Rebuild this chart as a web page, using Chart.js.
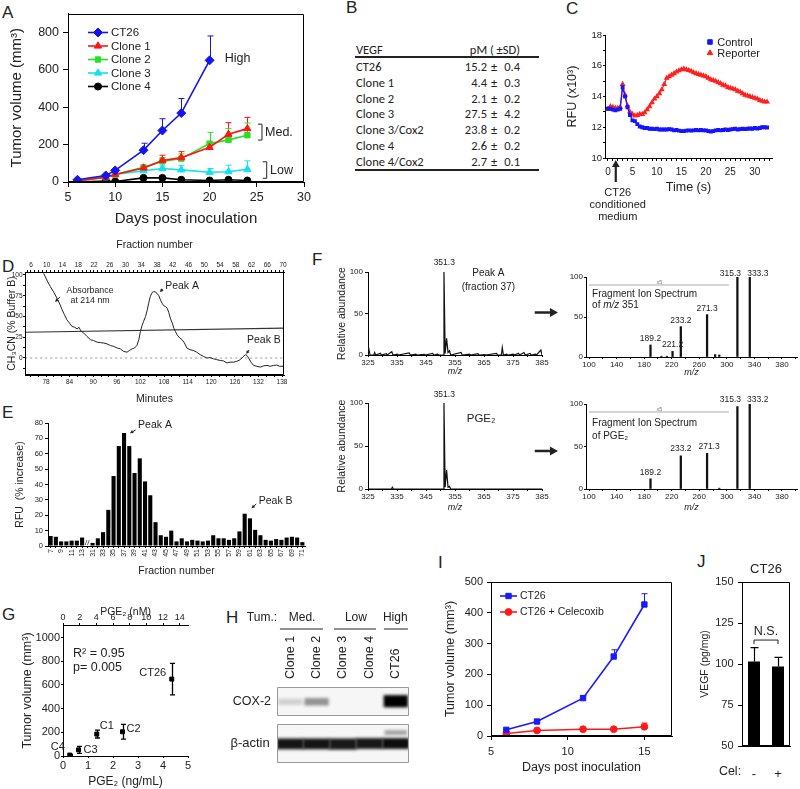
<!DOCTYPE html>
<html><head><meta charset="utf-8">
<script src="https://cdn.jsdelivr.net/npm/chart.js@4.4.1/dist/chart.umd.min.js"></script>
<style>
html,body{margin:0;padding:0;background:#fff;overflow:hidden}
#fig{position:relative;width:800px;height:789px;font-family:'Liberation Sans',Arial,sans-serif;color:#222}
.lbl{position:absolute;font-size:17px;line-height:18px}
.tb{position:absolute;font-family:Carlito,Lato,'Liberation Sans',sans-serif;font-size:12.5px;line-height:14px;white-space:nowrap;color:#222}
.hr{position:absolute;background:#222}
</style></head><body><div id="fig"></div>
<script>
// ================= DATA =================
// A: tumor growth
const aDays = [6, 9, 10, 13, 15, 17, 20, 22, 24];
const aCT26 = [12, 35, 62, 170, 275, 368, 650, null, null];
const aCT26Err = [3, 6, 6, 37, 63, 78, 130, null, null];
const aClone1 = [5, 25, 40, 75, 115, 130, 185, 255, 285];
const aClone1Err = [2, 3, 4, 6, 28, 32, 18, 62, 60];
const aClone2 = [5, 25, 40, 78, 110, 125, 205, 225, 250];
const aClone2Err = [2, 3, 4, 6, 20, 25, 60, 60, 65];
const aClone3 = [10, 30, 40, 60, 72, 65, 52, 55, 68];
const aClone3Err = [2, 3, 4, 14, 14, 22, 20, 35, 45];
const aClone4 = [0, 5, 3, 22, 22, 12, 8, 12, 8];
const aClone4Err = [1, 2, 2, 4, 5, 4, 3, 3, 3];
// B: VEGF table
const bNames = ['CT26', 'Clone 1', 'Clone 2', 'Clone 3', 'Clone 3/Cox2', 'Clone 4', 'Clone 4/Cox2'];
const bVEGF = ['15.2', '4.4', '2.1', '27.5', '23.8', '2.6', '2.7'];
const bSD = ['0.4', '0.3', '0.2', '4.2', '0.2', '0.2', '0.1'];
// C: reporter kinetics
const cTime = [0,0.5,1,1.5,2,2.5,3,3.5,4,4.5, 5,5.5,6,6.5,7,7.5,8,8.5,9,9.5,
  10,10.5,11,11.5,12,12.5,13,13.5,14,14.5, 15,15.5,16,16.5,17,17.5,18,18.5,19,19.5,
  20,20.5,21,21.5,22,22.5,23,23.5,24,24.5, 25,25.5,26,26.5,27,27.5,28,28.5,29,29.5,
  30,30.5,31,31.5,32,32.5];
const cControl = [13.2,13.2,13.15,13.1,13.15,13.2,14.6,14.0,13.3,12.8,
  12.45,12.4,12.2,12.05,12.0,11.95,11.95,11.9,11.9,11.88,
  11.9,11.85,11.85,11.85,11.85,11.88,11.85,11.8,11.82,11.78,
  11.75,11.75,11.78,11.8,11.78,11.8,11.82,11.8,11.82,11.8,
  11.8,11.75,11.72,11.75,11.8,11.82,11.8,11.82,11.85,11.82,
  11.85,11.88,11.9,11.85,11.88,11.9,11.88,11.9,11.92,11.9,
  11.95,11.92,11.95,12.0,12.0,11.98];
const cReporter = [13.2,13.35,13.3,13.25,13.25,13.3,14.8,14.1,13.4,13.0,
  12.85,12.75,12.78,12.85,12.85,12.95,13.15,13.35,13.6,13.85,
  14.0,14.2,14.45,14.8,15.2,15.3,15.4,15.5,15.6,15.68,
  15.75,15.8,15.75,15.7,15.65,15.55,15.5,15.45,15.4,15.35,
  15.3,15.2,15.1,15.05,15.0,14.92,14.85,14.75,14.7,14.6,
  14.55,14.5,14.45,14.35,14.3,14.2,14.1,14.05,14.0,13.95,
  13.9,13.85,13.75,13.7,13.65,13.65];
// D: HPLC trace [minutes, value]
const dTrace = [[77.4,102],[78.2,94],[79.1,86],[80.0,79],[80.8,72],[81.5,65],[82.1,58],[82.7,52],[83.3,46],[84.0,42],
  [84.6,38],[85.3,37],[85.9,35],[86.4,37],[86.8,33],[87.6,30],[88.4,26],[89.3,22],[90.1,21],[91.0,19],
  [91.8,18.5],[92.7,18],[93.5,17],[94.4,15],[95.2,14],[96.1,12],[96.9,11],[97.7,8],[98.6,7],[99.2,9],
  [99.9,11],[100.5,12],[101.1,15],[101.6,22],[102.0,32],[102.4,39],[102.8,44],[103.3,50],[103.7,57],[104.1,66],
  [104.5,74],[105.0,79],[105.4,80],[105.8,79.5],[106.2,78],[106.7,75],[107.1,70],[107.5,66],[107.9,63],[108.4,62],
  [108.8,60],[109.2,55],[109.6,48],[110.1,42],[110.5,36],[110.9,32],[111.3,28],[112.0,24],[112.6,22],[113.2,18],
  [113.8,12],[114.6,10],[115.5,9],[116.3,7],[117.2,4],[118.0,2],[118.9,0],[119.7,0.5],[120.6,-1],[121.4,-2],
  [122.3,-3],[123.1,-3.5],[124.0,-6],[124.8,-5],[125.7,-5],[126.5,-4],[127.4,-2],[128.0,1],[128.7,4],[129.1,3],
  [129.5,0],[130.1,-5],[130.8,-9],[131.6,-10],[132.5,-11],[133.3,-9.5],[134.2,-9],[135.0,-10],[135.8,-9],[136.6,-8.5],
  [137.4,-10],[138.3,-10]];
const dGradient = [[72.7,31],[138.5,36]];
const dZero = [[72.7,0],[138.5,0]];
// E: fraction activity
const eFractions = ['7','8','9','10','11','12','13','','31','32','33','34','35','36','37','38','39','40',
  '41','42','43','44','45','46','47','48','49','50','51','52','53','54','55','56','57','58','59','60',
  '61','62','63','64','65','66','67','68','69','70','71'];
const eRFU = [6.5,6,3,3,3.5,3.5,5.5,null,2,5,9,23.5,45.5,65,73.5,65,47.5,57,
  42,33,15.5,7,6,10,3,5,3,4,3.5,3,3.5,7,5,5,4,5,9.5,21,
  18,10.5,7,4,3.5,4.5,4,5.5,6,5.5,2.5];
// F: mass spectra
const f1Mz = [324.8,325.2,325.7,327,327.3,327.6,329.3,329.6,331.3,331.6,333.2,333.6,335.1,335.4,339.2,339.6,341.5,341.8,
  344.4,344.7,347.3,347.7,349,349.4,350.9,351.2,351.6,352.1,352.6,353.1,353.5,357.1,357.5,360,360.4,362.9,363.3,
  365.3,365.7,369.3,369.7,371.0,371.3,371.7,372.8,373.2,375.1,375.5,376.9,377.3,378.8,379.2,380.9,381.3,382.7,383.1,384.6,385];
const f1Int = [0,9,0,0,3,0,2,0,1.5,0,4,0,1,0,2.5,0,1,0,
  0.8,0,2,0,1,0,0,100,2,20,3,5,0,3,0,1,0,1.5,0,
  0.5,0,2,0,0,9,0,1,0,1,0,2,0,3,0,2,0,1,0,6,0];
const f2Mz = [325,333.1,333.4,333.8,350.9,351.2,351.6,352.1,352.6,353.1,353.5,385];
const f2Int = [0,0,2,0,0,100,2,22,2,3,0,0];
const f3Mz = [189.2,205,213,221.2,233.2,271.3,283,289,315.3,333.3];
const f3Int = [15,1,1,7,38,53,3,2.5,100,100];
const f4Mz = [189.2,233.2,271.3,289,315.3,333.2];
const f4Int = [12,39,42,1,97,100];
// G: PGE2 vs tumor volume
const gNames = ['C4','C3','C1','C2','CT26'];
const gPGE = [0.27,0.62,1.35,2.38,4.35];
const gVolume = [8,52,185,205,650];
const gErr = [6,30,33,62,133];
// H: western blot lanes
const hLanes = ['Clone 1','Clone 2','Clone 3','Clone 4','CT26'];
const hCoxBand = [[0.38,0.6],[0.36,0.62],null,null,[0.3,0.72]];
const hCoxLevel = [0.15,0.4,0,0,1];
const hActinBand = [[0.36,0.62],[0.36,0.62],[0.35,0.62],[0.37,0.63],[0.37,0.63]];
const hActinLevel = [0.92,0.92,0.9,0.9,0.95];
const hUpperBand = [null,null,null,null,[0.72,0.84]];
const hUpperLevel = [0,0,0,0,0.35];
// I: celecoxib
const iDays = [6,8,11,13,15];
const iCT26 = [20,47,123,258,427];
const iCT26Err = [4,5,8,22,35];
const iCel = [8,18,22,22,30];
const iCelErr = [2,2,2,2,12];
// J: VEGF
const jCel = ['-','+'];
const jVEGF = [101.5,98.5];
const jErr = [8.5,5.5];

// ================= SETUP =================
const FONT = "'Liberation Sans', Arial, sans-serif";
Chart.defaults.font.family = FONT;
Chart.defaults.color = '#222';
Chart.defaults.plugins.legend.display = false;
Chart.defaults.plugins.tooltip.enabled = false;
Chart.defaults.events = [];
Chart.defaults.animation = false;
const fig = document.getElementById('fig');
const pairs = (xs, ys) => xs.map((x, i) => ({x, y: ys[i]}));

function drawMark(ctx, style, r, x, y) {
  if (Chart.helpers && Chart.helpers.drawPoint) {
    Chart.helpers.drawPoint(ctx, {pointStyle: style, radius: r, rotation: 0, borderWidth: 1}, x, y);
  } else { ctx.beginPath(); ctx.arc(x, y, r, 0, 7); ctx.fill(); }
}

const xPlug = {
  id: 'xplug',
  beforeDatasetsDraw(chart) {
    const X = chart.canvas.$x || {}, ctx = chart.ctx, a = chart.chartArea;
    if (X.frame && X.frame.bg) { ctx.save(); ctx.fillStyle = X.frame.bg; ctx.fillRect(a.left, a.top, a.right - a.left, a.bottom - a.top); ctx.restore(); }
    chart.data.datasets.forEach((ds, di) => {
      if (!ds.errUp && !ds.errDn) return;
      const meta = chart.getDatasetMeta(di), ys = chart.scales[meta.yAxisID];
      ctx.save(); ctx.strokeStyle = ds.errColor || ds.borderColor; ctx.lineWidth = ds.errW || 1;
      const cap = ds.errCap == null ? 6 : ds.errCap;
      meta.data.forEach((el, i) => {
        const p = meta.controller.getParsed(i); if (!p || p.y == null) return;
        const up = ds.errUp ? ds.errUp[i] : 0, dn = ds.errDn ? ds.errDn[i] : 0;
        if (!up && !dn) return;
        const x = Math.round(el.x) + 0.5;
        const y1 = ys.getPixelForValue(p.y + (up || 0)), y0 = ys.getPixelForValue(p.y - (dn || 0));
        ctx.beginPath(); ctx.moveTo(x, y0); ctx.lineTo(x, y1);
        if (up) { ctx.moveTo(x - cap / 2, y1); ctx.lineTo(x + cap / 2, y1); }
        if (dn) { ctx.moveTo(x - cap / 2, y0); ctx.lineTo(x + cap / 2, y0); }
        ctx.stroke();
      });
      ctx.restore();
    });
    if (X.blur) { ctx.save(); ctx.filter = 'blur(' + X.blur + 'px)'; chart.$blurred = true; }
  },
  afterDatasetsDraw(chart) {
    if (chart.$blurred) { chart.ctx.restore(); chart.$blurred = false; }
  },
  afterDraw(chart) {
    const X = chart.canvas.$x || {}, ctx = chart.ctx, a = chart.chartArea;
    if (X.frame) {
      const s = X.frame.sides || 'trbl';
      const L = Math.round(a.left) + 0.5, R = Math.round(a.right) - 0.5, T = Math.round(a.top) + 0.5, B = Math.round(a.bottom) - 0.5;
      ctx.save(); ctx.strokeStyle = X.frame.color || '#000'; ctx.lineWidth = 1; ctx.beginPath();
      if (s.includes('t')) { ctx.moveTo(L, T); ctx.lineTo(R, T); }
      if (s.includes('r')) { ctx.moveTo(R, T); ctx.lineTo(R, B); }
      if (s.includes('b')) { ctx.moveTo(L, B); ctx.lineTo(R, B); }
      if (s.includes('l')) { ctx.moveTo(L, T); ctx.lineTo(L, B); }
      ctx.stroke(); ctx.restore();
    }
    if (X.lgd) {
      const G = X.lgd; ctx.save(); ctx.font = G.size + 'px ' + FONT; ctx.textBaseline = 'middle'; ctx.textAlign = 'left';
      chart.data.datasets.forEach((ds, i) => {
        const x0 = a.left + G.x, y = a.top + G.y + i * G.row;
        ctx.strokeStyle = ds.borderColor; ctx.fillStyle = ds.backgroundColor; ctx.lineWidth = ds.borderWidth || 1.5;
        if (G.line) { ctx.beginPath(); ctx.moveTo(x0, y); ctx.lineTo(x0 + G.line, y); ctx.stroke(); }
        ctx.lineWidth = 1;
        drawMark(ctx, ds.pointStyle, G.r || ds.pointRadius, x0 + G.line / 2, y);
        ctx.fillStyle = '#222';
        ctx.fillText(ds.label, x0 + G.line / 2 + (G.line ? G.line / 2 : (G.r || ds.pointRadius)) + (G.gap || 3), y + 0.5);
      });
      ctx.restore();
    }
    if (X.notes) {
      for (const it of X.notes) {
        const xs = chart.scales[it.xs || 'x'], ys = chart.scales[it.ys || 'y'];
        const P = p => [xs.getPixelForValue(p[0]) + (p[2] || 0), ys.getPixelForValue(p[1]) + (p[3] || 0)];
        ctx.save();
        ctx.strokeStyle = ctx.fillStyle = it.color || '#222';
        ctx.lineWidth = it.lw || 1;
        if (it.t != null || it.parts) {
          const [px, py] = P([it.x, it.y, it.dx, it.dy]);
          ctx.textBaseline = 'middle'; ctx.textAlign = 'left';
          const parts = it.parts || [{t: it.t, style: it.style}];
          const fnt = s => (s || '') + ' ' + (it.size || 11) + 'px ' + FONT;
          let w = 0; parts.forEach(p => { ctx.font = fnt(p.style); w += ctx.measureText(p.t).width; });
          let x = it.align === 'center' ? px - w / 2 : it.align === 'right' ? px - w : px;
          parts.forEach(p => { ctx.font = fnt(p.style); ctx.fillText(p.t, x, py); x += ctx.measureText(p.t).width; });
        } else if (it.line) {
          if (it.dash) ctx.setLineDash(it.dash);
          ctx.beginPath(); it.line.forEach((p, i) => { const q = P(p); i ? ctx.lineTo(q[0], q[1]) : ctx.moveTo(q[0], q[1]); }); ctx.stroke();
        } else if (it.arrow) {
          const [x1, y1] = P(it.arrow[0]), [x2, y2] = P(it.arrow[1]);
          const h = it.head || 5, ang = Math.atan2(y2 - y1, x2 - x1);
          const bx = x2 - h * Math.cos(ang), by = y2 - h * Math.sin(ang);
          ctx.beginPath(); ctx.moveTo(x1, y1); ctx.lineTo(bx, by); ctx.stroke();
          const wdt = h * (it.hw || 0.5);
          ctx.beginPath(); ctx.moveTo(x2, y2);
          ctx.lineTo(bx + wdt * Math.sin(ang), by - wdt * Math.cos(ang));
          ctx.lineTo(bx - wdt * Math.sin(ang), by + wdt * Math.cos(ang));
          ctx.closePath(); ctx.fill();
        }
        ctx.restore();
      }
    }
  }
};
Chart.register(xPlug);

function lin(o) {
  const s = {
    type: 'linear', min: o.min, max: o.max,
    grid: {drawOnChartArea: false, drawTicks: o.tl !== 0, tickLength: o.tl == null ? 4 : o.tl, color: '#000', lineWidth: 1, offset: false},
    border: {display: o.border == null ? true : o.border, color: '#000', width: 1},
    ticks: {stepSize: o.step, includeBounds: false, autoSkip: false, maxRotation: 0, minRotation: 0,
      font: {size: o.fs || 11}, color: '#222', padding: o.pad == null ? 2 : o.pad,
      callback: o.cb || (v => String(v))},
    title: {display: !!o.title, text: o.title || '', color: '#222',
      font: {size: o.tfs || 12, style: o.tstyle || 'normal'}, padding: o.tpad || {top: 1, bottom: 1}},
    offset: false
  };
  if (o.position) s.position = o.position;
  if (o.axis) s.axis = o.axis;
  return s;
}

function mk(area, m, cfg, extra) {
  const W = area.r - area.l + m.l + m.r, H = area.b - area.t + m.t + m.b;
  const c = document.createElement('canvas');
  c.width = W; c.height = H;
  c.style.cssText = 'position:absolute;left:' + (area.l - m.l) + 'px;top:' + (area.t - m.t) + 'px;width:' + W + 'px;height:' + H + 'px;';
  fig.appendChild(c);
  c.$x = extra || {};
  const o = cfg.options = cfg.options || {};
  o.responsive = false; o.maintainAspectRatio = false; o.animation = false; o.devicePixelRatio = 1;
  const pad = {left: m.l, right: m.r, top: m.t, bottom: m.b};
  for (const [id, s] of Object.entries(o.scales || {})) {
    const pos = s.position || (id[0] === 'x' ? 'bottom' : 'left');
    s.position = pos;
    const size = m[{left: 'l', right: 'r', top: 't', bottom: 'b'}[pos]];
    pad[pos] = 0;
    s.afterFit = sc => {
      if (sc.isHorizontal()) sc.height = size; else sc.width = size;
      sc.paddingLeft = sc.paddingRight = sc.paddingTop = sc.paddingBottom = 0;
    };
  }
  o.layout = {padding: pad};
  return new Chart(c, cfg);
}

function ser(label, xs, ys, errs, color, ps, r, bw) {
  const idx = xs.map((_, i) => i).filter(i => ys[i] != null);
  return {label, data: idx.map(i => ({x: xs[i], y: ys[i]})), errUp: idx.map(i => errs[i]),
    borderColor: color, backgroundColor: color, pointStyle: ps, pointRadius: r, pointBorderWidth: 1,
    borderWidth: bw || 1.6, tension: 0};
}

function html(cls, text, css) {
  const d = document.createElement('div'); d.className = cls; d.textContent = text; d.style.cssText += css; fig.appendChild(d); return d;
}

// panel letters
[['A', 2, 4], ['B', 346, -1], ['C', 566, 0], ['D', 2, 258], ['E', 2, 404], ['F', 312, 251],
 ['G', 2, 606], ['H', 226, 609], ['I', 438, 554], ['J', 697, 553]].forEach(([t, x, y]) => html('lbl', t, 'left:' + x + 'px;top:' + y + 'px;'));

// ================= A =================
mk({l: 68, t: 13, r: 304, b: 182}, {l: 61, t: 5, r: 14, b: 47}, {
  type: 'line',
  data: {datasets: [
    ser('CT26', aDays, aCT26, aCT26Err, '#1414f0', 'rectRot', 4.5),
    ser('Clone 1', aDays, aClone1, aClone1Err, '#ff1414', 'triangle', 4.2),
    ser('Clone 2', aDays, aClone2, aClone2Err, '#26e026', 'rect', 3.8),
    ser('Clone 3', aDays, aClone3, aClone3Err, '#14e0f0', 'triangle', 4.2),
    ser('Clone 4', aDays, aClone4, aClone4Err, '#000000', 'circle', 3.5)
  ]},
  options: {scales: {
    x: lin({min: 5, max: 30, step: 5, fs: 12.5, tl: 5, pad: 3, title: 'Days post inoculation', tfs: 15}),
    y: lin({min: 0, max: 900, step: 200, fs: 12.5, tl: 5, pad: 4, title: 'Tumor volume (mm³)', tfs: 15})
  }}
}, {frame: {}, lgd: {x: 20, y: 19, row: 13.5, line: 20, size: 11.5, gap: 3},
  notes: [
    {t: 'High', x: 21.6, y: 660, size: 12.5},
    {line: [[25.55, 309, -4, 0], [25.55, 309], [25.55, 224], [25.55, 224, -4, 0]]},
    {t: 'Med.', x: 25.87, y: 266, size: 12.5},
    {line: [[26.05, 108, -4, 0], [26.05, 108], [26.05, 20], [26.05, 20, -4, 0]]},
    {t: 'Low', x: 26.4, y: 60, size: 12.5}
  ]});

// ================= B (table) =================
html('tb', 'VEGF', 'left:356px;top:43px;');
html('tb', 'pM ( ±SD)', 'left:420px;top:43px;width:100px;text-align:right;');
html('hr', '', 'left:355px;top:56px;width:184px;height:1.5px;');
bNames.forEach((n, i) => {
  const y = 60 + i * 15.8;
  html('tb', n, 'left:356px;top:' + y + 'px;');
  html('tb', bVEGF[i], 'left:440px;top:' + y + 'px;width:47px;text-align:right;');
  html('tb', '±', 'left:489px;top:' + y + 'px;width:10px;text-align:center;');
  html('tb', bSD[i], 'left:496px;top:' + y + 'px;width:24px;text-align:right;');
});
html('hr', '', 'left:355px;top:169px;width:184px;height:1.5px;');

// ================= C =================
mk({l: 605, t: 35, r: 772, b: 158}, {l: 41, t: 8, r: 6, b: 70}, {
  type: 'line',
  data: {datasets: [
    {label: 'Control', data: pairs(cTime, cControl), borderColor: '#1414ff', backgroundColor: '#1414ff', pointStyle: 'rect', pointRadius: 1.9, borderWidth: 1.2},
    {label: 'Reporter', data: pairs(cTime, cReporter), borderColor: '#ff2020', backgroundColor: '#ff2020', pointStyle: 'triangle', pointRadius: 2.2, borderWidth: 1.2}
  ]},
  options: {scales: {
    x: lin({min: -0.6, max: 33.5, step: 1, fs: 10, tl: 3, pad: 5, cb: v => v % 5 === 0 ? String(v) : '', title: 'Time (s)', tfs: 12.5, tpad: {top: 0, bottom: 33}}),
    y: lin({min: 10, max: 18, step: 1, fs: 9.5, tl: 2, pad: 1, cb: v => v % 2 === 0 ? String(v) : '', title: 'RFU (x10³)', tfs: 12.5})
  }}
}, {lgd: {x: 105, y: 7, row: 11, line: 0, size: 11, gap: 4, r: 3.2},
  notes: [
    {arrow: [[1.6, 10, 0, 24], [1.6, 10, 0, 2]], lw: 2.2, head: 7, hw: 0.55, color: '#222'},
    {t: 'CT26', x: 2.0, y: 10, dy: 35, size: 11, align: 'center'},
    {t: 'conditioned', x: 2.0, y: 10, dy: 47, size: 11, align: 'center'},
    {t: 'medium', x: 2.0, y: 10, dy: 59, size: 11, align: 'center'}
  ]});

// ================= D =================
mk({l: 25, t: 272, r: 284, b: 375}, {l: 20, t: 34, r: 10, b: 31}, {
  type: 'line',
  data: {datasets: [
    {data: dTrace.map(p => ({x: p[0], y: p[1]})), borderColor: '#222', borderWidth: 1, pointRadius: 0, tension: 0},
    {data: dGradient.map(p => ({x: p[0], y: p[1]})), borderColor: '#333', borderWidth: 1.2, pointRadius: 0},
    {data: dZero.map(p => ({x: p[0], y: p[1]})), borderColor: '#999', borderWidth: 1, borderDash: [2, 3], pointRadius: 0}
  ]},
  options: {scales: {
    x: lin({min: 72.66, max: 138.5, step: 2, fs: 6.5, tl: 2, pad: 1, cb: v => (v - 78) % 6 === 0 ? String(v) : '', title: 'Minutes', tfs: 10.5}),
    x2: lin({position: 'top', axis: 'x', min: 4.48, max: 70.25, step: 1, fs: 6.5, tl: 2, pad: 1, cb: v => (v - 6) % 4 === 0 ? String(v) : '', title: 'Fraction number', tfs: 10.5}),
    y: lin({min: -20.5, max: 103.6, step: 12.5, fs: 6.5, tl: 2, pad: 0.5, cb: v => (v >= 0 && v % 25 === 0) ? String(v) : '', title: 'CH₃CN (% Buffer B)', tfs: 10.5})
  }}
}, {frame: {},
  notes: [
    {t: 'Absorbance', x: 89.2, y: 80.7, size: 8.8, align: 'center'},
    {t: 'at 214 nm', x: 89.2, y: 68.7, size: 8.8, align: 'center'},
    {arrow: [[81.56, 73.5], [80.3, 67.5]], head: 3.5},
    {t: 'Peak A', x: 112.6, y: 86.7, size: 10.5, align: 'center'},
    {arrow: [[107.75, 83.1], [106.9, 79.5]], head: 3.5},
    {t: 'Peak B', x: 133.4, y: 21.7, size: 10.5, align: 'center'},
    {arrow: [[129.6, 9.6], [128.9, 4.8]], head: 3.5}
  ]});

// ================= E =================
mk({l: 48, t: 423, r: 305, b: 546}, {l: 35, t: 10, r: 5, b: 32}, {
  type: 'bar',
  data: {labels: eFractions, datasets: [{data: eRFU, backgroundColor: '#000', barPercentage: 0.78, categoryPercentage: 1}]},
  options: {scales: {
    x: {type: 'category', offset: true,
      grid: {offset: false, drawOnChartArea: false, tickLength: 2, color: '#000'},
      border: {display: true, color: '#000'},
      ticks: {font: {size: 7}, minRotation: 90, maxRotation: 90, autoSkip: false, padding: 1, color: '#222',
        callback: function (v) { const l = this.getLabelForValue(v); return (l !== '' && (+l) % 2 === 1) ? l : ''; }},
      title: {display: true, text: 'Fraction number', font: {size: 10.5}, padding: {top: 0, bottom: 1}, color: '#222'}},
    y: lin({min: 0, max: 80, step: 10, fs: 7.5, tl: 3, pad: 2, title: 'RFU  (% increase)', tfs: 10.5})
  }}
}, {notes: [
  {t: 'Peak A', x: 19.9, y: 78.7, size: 10.5, align: 'center'},
  {arrow: [[16.2, 75.4], [15.1, 73.3]], head: 3.5},
  {t: 'Peak B', x: 42.9, y: 29.5, size: 10.5, align: 'center'},
  {arrow: [[39.2, 27.3], [38.3, 24.5]], head: 3.5},
  {t: '//', x: 7, y: 0, dy: -3, size: 8, align: 'center'}
]});

// ================= F =================
const fx = (min, max, step, lab) => lin({min, max, step, fs: 8, tl: 2, pad: 1, cb: v => (v - lab[0]) % lab[1] === 0 ? String(v) : '', title: 'm/z', tfs: 9, tstyle: 'italic'});
mk({l: 368, t: 272, r: 542, b: 355}, {l: 33, t: 17, r: 18, b: 23}, {
  type: 'line',
  data: {datasets: [{data: pairs(f1Mz, f1Int), borderColor: '#111', borderWidth: 1.2, pointRadius: 0, tension: 0}]},
  options: {scales: {
    x: fx(325, 385, 5, [325, 10]),
    y: lin({min: 0, max: 100, step: 50, fs: 8, tl: 3, pad: 2, title: 'Relative abundance', tfs: 10.5})
  }}
}, {notes: [
  {t: '351.3', x: 351.3, y: 100, dy: -9, size: 8.5, align: 'center'},
  {t: 'Peak A', x: 366.5, y: 98.8, size: 10, align: 'center'},
  {t: '(fraction 37)', x: 366.5, y: 81.7, size: 10, align: 'center'},
  {arrow: [[382.5, 51.2], [390.5, 51.2]], lw: 2.5, head: 8, hw: 0.55}
]});
mk({l: 368, t: 403, r: 542, b: 489}, {l: 33, t: 14, r: 18, b: 25}, {
  type: 'line',
  data: {datasets: [{data: pairs(f2Mz, f2Int), borderColor: '#111', borderWidth: 1.2, pointRadius: 0, tension: 0}]},
  options: {scales: {
    x: fx(325, 385, 5, [325, 10]),
    y: lin({min: 0, max: 100, step: 50, fs: 8, tl: 3, pad: 2, title: 'Relative abundance', tfs: 10.5})
  }}
}, {notes: [
  {t: '351.3', x: 351.3, y: 100, dy: -8, size: 8.5, align: 'center'},
  {t: 'PGE₂', x: 364, y: 81.4, size: 11.5, align: 'center'},
  {arrow: [[382.5, 44.2], [390.5, 44.2]], lw: 2.5, head: 8, hw: 0.55}
]});
function stickChart(area, m, mz, inten, notes) {
  return mk(area, m, {
    type: 'bar',
    data: {datasets: [{data: pairs(mz, inten), backgroundColor: '#111', barThickness: 1.6}]},
    options: {scales: {
      x: fx(95.6, 401.8, 20, [100, 40]),
      y: lin({min: 0, max: 100, step: 50, fs: 8, tl: 2, pad: 1})
    }}
  }, {notes});
}
stickChart({l: 586, t: 277, r: 797, b: 357}, {l: 22, t: 10, r: 3, b: 22}, f3Mz, f3Int, [
  {line: [[100, 90], [303, 90]], color: '#aaa'},
  {t: 'x5', x: 202, y: 90, dy: -3, size: 5.5, color: '#777', align: 'center'},
  {t: 'Fragment Ion Spectrum', x: 104.4, y: 79, size: 10},
  {parts: [{t: 'of '}, {t: 'm/z', style: 'italic'}, {t: ' 351'}], x: 104.4, y: 65, size: 10},
  {t: '189.2', x: 189.2, y: 22.5, size: 8.5, align: 'center'},
  {t: '221.2', x: 221.2, y: 15, size: 8.5, align: 'center'},
  {t: '233.2', x: 233.2, y: 46, size: 8.5, align: 'center'},
  {t: '271.3', x: 271.3, y: 60, size: 8.5, align: 'center'},
  {t: '315.3', x: 315.3, y: 104, dx: -7, size: 8.5, align: 'center'},
  {t: '333.3', x: 333.3, y: 104, dx: 8, size: 8.5, align: 'center'}
]);
stickChart({l: 586, t: 404, r: 797, b: 489}, {l: 22, t: 10, r: 3, b: 25}, f4Mz, f4Int, [
  {line: [[100, 90.6], [303, 90.6]], color: '#aaa'},
  {t: 'x5', x: 202, y: 90.6, dy: -3, size: 5.5, color: '#777', align: 'center'},
  {t: 'Fragment Ion Spectrum', x: 104.4, y: 77.6, size: 10},
  {t: 'of PGE₂', x: 104.4, y: 62.4, size: 10},
  {t: '189.2', x: 189.2, y: 18.8, size: 8.5, align: 'center'},
  {t: '233.2', x: 233.2, y: 47, size: 8.5, align: 'center'},
  {t: '271.3', x: 271.3, y: 49.4, dx: 2, size: 8.5, align: 'center'},
  {t: '315.3', x: 315.3, y: 104.7, dx: -7, size: 8.5, align: 'center'},
  {t: '333.2', x: 333.2, y: 104.7, dx: 8, size: 8.5, align: 'center'}
]);

// ================= G =================
mk({l: 63, t: 625, r: 188, b: 756}, {l: 44, t: 19, r: 12, b: 34}, {
  type: 'scatter',
  data: {datasets: [{data: pairs(gPGE, gVolume), errUp: gErr, errDn: gErr, errColor: '#000', errCap: 5, errW: 1.3,
    backgroundColor: '#000', borderColor: '#000', pointStyle: 'rect', pointRadius: 2.8}]},
  options: {scales: {
    x: lin({min: 0, max: 5, step: 1, fs: 11, tl: 2, pad: 1, title: 'PGE₂ (ng/mL)', tfs: 12}),
    x2: lin({position: 'top', axis: 'x', min: 0, max: 15, step: 2, fs: 9, tl: 2, pad: 0, title: 'PGE₂ (nM)', tfs: 10.5, tpad: {top: 0, bottom: 0}}),
    y: lin({min: 0, max: 1107, step: 200, fs: 11, tl: 2, pad: 1, title: 'Tumor volume (mm³)', tfs: 12.5})
  }}
}, {notes: [
  {t: 'R² = 0.95', x: 0.4, y: 862, size: 12.5},
  {t: 'p= 0.005', x: 0.4, y: 744, size: 12.5},
  {t: gNames[0], x: gPGE[0], y: gVolume[0], dx: -12, dy: -8, size: 11, align: 'center'},
  {t: gNames[1], x: gPGE[1], y: gVolume[1], dx: 12, dy: 0, size: 11, align: 'center'},
  {t: gNames[2], x: gPGE[2], y: gVolume[2], dx: 10, dy: -8, size: 11, align: 'center'},
  {t: gNames[3], x: gPGE[3], y: gVolume[3], dx: 11, dy: -3, size: 11, align: 'center'},
  {t: gNames[4], x: gPGE[4], y: gVolume[4], dx: -19, dy: -6, size: 11, align: 'center'}
]});

// ================= H (blots) =================
const gray = a => 'rgba(0,0,0,' + a + ')';
mk({l: 277, t: 687, r: 409, b: 716}, {l: 49, t: 79, r: 2, b: 2}, {
  type: 'bar',
  data: {labels: hLanes, datasets: [{data: hCoxBand, backgroundColor: hCoxLevel.map(gray), barPercentage: 0.92, categoryPercentage: 1}]},
  options: {scales: {
    x: {type: 'category', position: 'top', offset: true, grid: {display: false}, border: {display: false},
      ticks: {font: {size: 12.5}, minRotation: 90, maxRotation: 90, padding: 0, labelOffset: 15, autoSkip: false, color: '#222'}},
    y: {type: 'linear', min: 0, max: 1, grid: {display: false}, border: {display: false}, ticks: {display: false}}
  }}
}, {blur: 1.6, frame: {color: '#999', bg: '#f6f6f6'}, notes: [
  {t: 'COX-2', x: -1.45, y: 0.5, size: 12.5, align: 'center'},
  {t: 'Tum.:', x: -1.07, y: 1, dy: -69, size: 12, align: 'center'},
  {t: 'Med.', x: 0.45, y: 1, dy: -69, size: 12, align: 'center'},
  {line: [[-0.39, 1, 0, -58], [1.24, 1, 0, -58]]},
  {t: 'Low', x: 2.49, y: 1, dy: -69, size: 12, align: 'center'},
  {line: [[1.66, 1, 0, -58], [3.25, 1, 0, -58]]},
  {t: 'High', x: 3.98, y: 1, dy: -69, size: 12, align: 'center'},
  {line: [[3.55, 1, 0, -58], [4.46, 1, 0, -58]]}
]});
mk({l: 277, t: 724, r: 409, b: 763}, {l: 49, t: 2, r: 2, b: 2}, {
  type: 'bar',
  data: {labels: hLanes, datasets: [
    {data: hActinBand, backgroundColor: hActinLevel.map(gray), barPercentage: 1, categoryPercentage: 1, grouped: false},
    {data: hUpperBand, backgroundColor: hUpperLevel.map(gray), barPercentage: 0.85, categoryPercentage: 1, grouped: false}
  ]},
  options: {scales: {
    x: {type: 'category', offset: true, grid: {display: false}, border: {display: false}, ticks: {display: false}},
    y: {type: 'linear', min: 0, max: 1, grid: {display: false}, border: {display: false}, ticks: {display: false}}
  }}
}, {blur: 1.6, frame: {color: '#999', bg: '#f6f6f6'}, notes: [
  {t: 'β-actin', x: -1.52, y: 0.49, size: 13, align: 'center'}
]});

// ================= I =================
mk({l: 491, t: 582, r: 672, b: 736}, {l: 49, t: 10, r: 8, b: 40}, {
  type: 'line',
  data: {datasets: [
    ser('CT26', iDays, iCT26, iCT26Err, '#1a1aff', 'rect', 3.8),
    ser('CT26 + Celecoxib', iDays, iCel, iCelErr, '#ff1a1a', 'circle', 3.4)
  ]},
  options: {scales: {
    x: lin({min: 5, max: 16.8, step: 5, fs: 11, tl: 4, pad: 5, title: 'Days post inoculation', tfs: 12.5}),
    y: lin({min: 0, max: 500, step: 100, fs: 11, tl: 4, pad: 4, title: 'Tumor volume (mm³)', tfs: 12.5})
  }}
}, {frame: {}, lgd: {x: 9, y: 14, row: 16, line: 17, size: 10.5, gap: 3}});

// ================= J =================
mk({l: 742, t: 582, r: 790, b: 746}, {l: 44, t: 22, r: 6, b: 36}, {
  type: 'bar',
  data: {labels: jCel, datasets: [{data: jVEGF, errUp: jErr, errColor: '#000', errCap: 8, errW: 1.2, backgroundColor: '#000', barPercentage: 0.5, categoryPercentage: 1}]},
  options: {scales: {
    x: {type: 'category', offset: true, grid: {display: false}, border: {display: true, color: '#000'},
      ticks: {font: {size: 13}, padding: 13, color: '#222'}},
    y: lin({min: 50, max: 150, step: 25, fs: 11, tl: 4, pad: 4.5, title: 'VEGF (pg/mg)', tfs: 10.5})
  }}
}, {frame: {}, notes: [
  {t: 'CT26', x: 0.5, y: 150, dy: -13, size: 13, align: 'center'},
  {t: 'Cel:', x: -1.0, y: 50, dy: 26, size: 12.5, align: 'center'},
  {line: [[0, 114.6, 0, 4], [0, 114.6], [1, 114.6], [1, 114.6, 0, 4]]},
  {t: 'N.S.', x: 0.5, y: 119.5, size: 12.5, align: 'center'}
]});
</script></body></html>
